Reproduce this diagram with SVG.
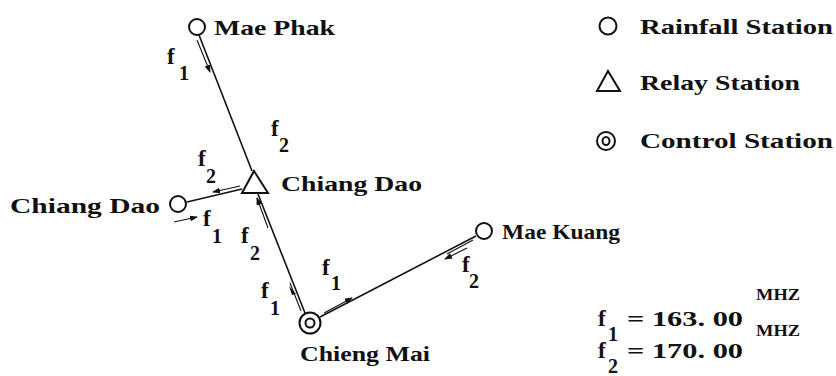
<svg xmlns="http://www.w3.org/2000/svg" width="836" height="376" viewBox="0 0 836 376">
<style>
text{font-family:"Liberation Serif","DejaVu Serif",serif;font-weight:bold;fill:#111;}
.lbl{font-size:21px;}
.f{font-size:23px;}
.sub{font-size:20px;}
.mhz{font-size:17px;}
.ln{stroke:#111;stroke-width:1.6;fill:none;}
.thin{stroke:#111;stroke-width:1.1;fill:none;}
.sym{stroke:#111;stroke-width:2;fill:#fff;}
</style>
<defs>
<marker id="ah" markerWidth="8" markerHeight="6" refX="7" refY="3" orient="auto" markerUnits="userSpaceOnUse">
<path d="M0,0 L8,3 L0,6 z" fill="#111"/>
</marker>
</defs>
<rect width="836" height="376" fill="#fff"/>
<g id="connectors">
<line class="ln" x1="199" y1="35" x2="252" y2="171"/>
<line class="ln" x1="187" y1="202" x2="242" y2="189"/>
<line class="ln" x1="258" y1="194" x2="305" y2="313"/>
<line class="ln" x1="320" y1="317" x2="476" y2="236"/>
<line class="thin" x1="197" y1="40" x2="210" y2="72" marker-end="url(#ah)"/>
<line class="thin" x1="240" y1="186" x2="213" y2="192" marker-end="url(#ah)"/>
<line class="thin" x1="174" y1="222" x2="197" y2="217" marker-end="url(#ah)"/>
<line class="thin" x1="268" y1="228" x2="257" y2="198" marker-end="url(#ah)"/>
<line class="thin" x1="290" y1="283" x2="301" y2="311"/>
<path d="M289,286 L296,294 L292,295 z" fill="#111"/>
<line class="thin" x1="324" y1="313" x2="352" y2="298" marker-end="url(#ah)"/>
<line class="thin" x1="473" y1="240" x2="447" y2="254"/>
<line class="thin" x1="467" y1="248" x2="445" y2="259" marker-end="url(#ah)"/>
</g>
<g id="mae-phak">
<circle class="sym" cx="197" cy="27" r="8"/>
<text class="lbl" x="214" y="35" textLength="121" lengthAdjust="spacingAndGlyphs">Mae Phak</text>
</g>
<g id="chiang-dao-relay">
<polygon class="sym" points="242,193 268,193 254,171"/>
<text class="lbl" x="281" y="191" textLength="141" lengthAdjust="spacingAndGlyphs">Chiang Dao</text>
</g>
<g id="chiang-dao-station">
<circle class="sym" cx="178" cy="204" r="8"/>
<text class="lbl" x="10" y="213" textLength="150" lengthAdjust="spacingAndGlyphs">Chiang Dao</text>
</g>
<g id="chieng-mai">
<circle class="sym" cx="310" cy="323" r="10.5"/>
<circle class="sym" cx="310" cy="323" r="4.5"/>
<text class="lbl" x="300" y="361" textLength="130" lengthAdjust="spacingAndGlyphs">Chieng Mai</text>
</g>
<g id="mae-kuang">
<circle class="sym" cx="484" cy="231" r="8"/>
<text class="lbl" x="502" y="239" textLength="118" lengthAdjust="spacingAndGlyphs">Mae Kuang</text>
</g>
<g id="freq-labels">
<text class="f" x="167" y="64">f</text><text class="sub" x="179" y="80">1</text>
<text class="f" x="271" y="136">f</text><text class="sub" x="279" y="152">2</text>
<text class="f" x="198" y="166">f</text><text class="sub" x="206" y="183">2</text>
<text class="f" x="203" y="226">f</text><text class="sub" x="212" y="243">1</text>
<text class="f" x="241" y="243">f</text><text class="sub" x="250" y="260">2</text>
<text class="f" x="261" y="298">f</text><text class="sub" x="270" y="315">1</text>
<text class="f" x="322" y="275">f</text><text class="sub" x="331" y="290">1</text>
<text class="f" x="462" y="272">f</text><text class="sub" x="469" y="288">2</text>
</g>
<g id="legend">
<circle class="sym" cx="608" cy="26" r="8.5"/>
<text class="lbl" x="640" y="34" textLength="193" lengthAdjust="spacingAndGlyphs">Rainfall Station</text>
<polygon class="sym" points="597,91 620,91 608,71"/>
<text class="lbl" x="640" y="90" textLength="160" lengthAdjust="spacingAndGlyphs">Relay Station</text>
<circle class="sym" cx="606" cy="141" r="9"/>
<ellipse class="sym" cx="606" cy="141" rx="3.5" ry="4"/>
<text class="lbl" x="640" y="148" textLength="193" lengthAdjust="spacingAndGlyphs">Control Station</text>
</g>
<g id="formula">
<text class="f" x="598" y="326">f</text><text class="sub" x="608" y="341">1</text>
<text class="lbl" x="627" y="326" textLength="116" lengthAdjust="spacingAndGlyphs">= 163. 00</text>
<text class="mhz" x="756" y="300" textLength="44" lengthAdjust="spacingAndGlyphs">MHZ</text>
<text class="f" x="598" y="358">f</text><text class="sub" x="608" y="373">2</text>
<text class="lbl" x="627" y="358" textLength="116" lengthAdjust="spacingAndGlyphs">= 170. 00</text>
<text class="mhz" x="756" y="336" textLength="44" lengthAdjust="spacingAndGlyphs">MHZ</text>
</g>
</svg>
